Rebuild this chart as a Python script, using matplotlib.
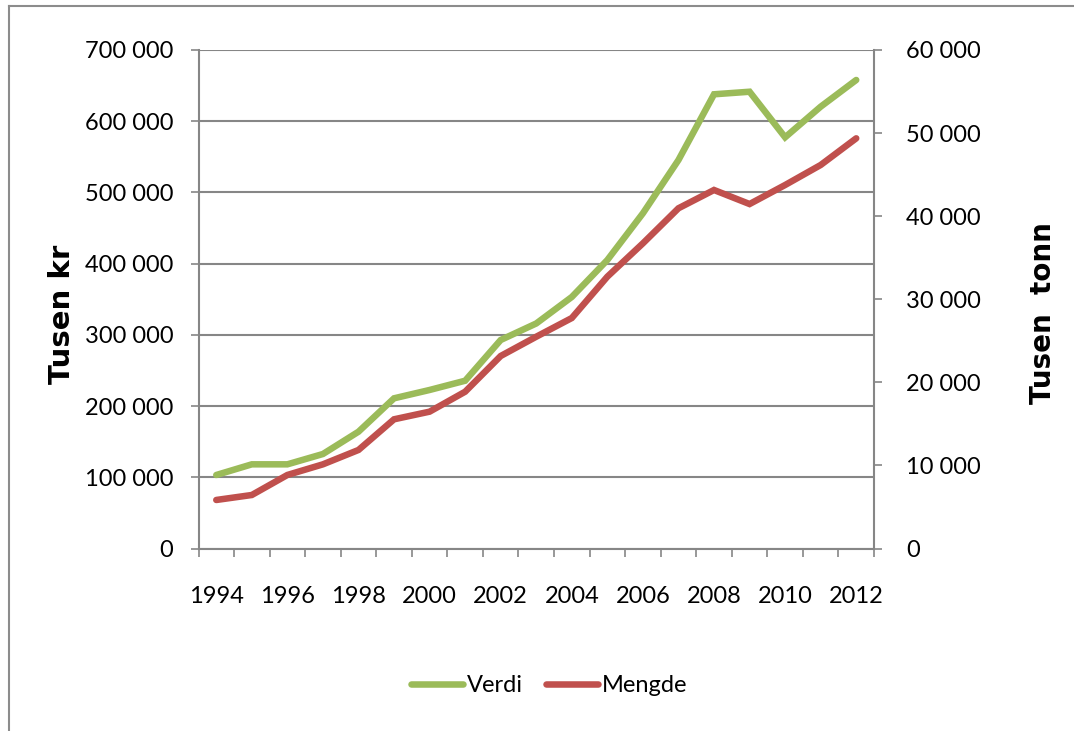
import matplotlib
matplotlib.use("Agg")
import matplotlib.pyplot as plt
from matplotlib.lines import Line2D
from matplotlib.ticker import FuncFormatter, FixedLocator

years = list(range(1994, 2013))
verdi = [103200, 118200, 118200, 132700, 164000, 210900, 222600, 235600,
         292800, 316000, 353200, 405100, 470700, 545500, 637800, 641400,
         577400, 620400, 657900]
mengde = [5840, 6440, 8850, 10130, 11860, 15550, 16470, 18870, 23170,
          25490, 27740, 32720, 36730, 40950, 43150, 41460, 43750, 46160,
          49370]
left_ticks = [0, 100000, 200000, 300000, 400000, 500000, 600000, 700000]
right_ticks = [0, 10000, 20000, 30000, 40000, 50000, 60000]
series_names = ["Verdi", "Mengde"]
left_label = "Tusen kr"
right_label = "Tusen  tonn"

GREEN = "#9BBB59"
RED = "#C0504D"
GRID = "#868686"
FONT = "Lato"

plt.rcParams['font.family'] = [FONT, 'DejaVu Sans']

W, H = 1074, 731
fig = plt.figure(figsize=(W / 100, H / 100), dpi=100)

# outer chart border
fig.add_artist(Line2D([9 / W, 9 / W], [0, 1 - 6 / H], transform=fig.transFigure,
                      color="#8c8c8c", lw=1.5))
fig.add_artist(Line2D([9 / W, 1], [1 - 6 / H, 1 - 6 / H], transform=fig.transFigure,
                      color="#8c8c8c", lw=1.5))

L, R, T, B = 198.5, 874, 50, 548.5
ax = fig.add_axes([L / W, 1 - B / H, (R - L) / W, (B - T) / H])
ax2 = ax.twinx()

x = list(range(len(years)))
l1, = ax.plot(x, verdi, color=GREEN, lw=4.7, solid_capstyle="round",
              solid_joinstyle="miter", label=series_names[0], zorder=3)
l2, = ax2.plot(x, mengde, color=RED, lw=4.7, solid_capstyle="round",
               solid_joinstyle="miter", label=series_names[1], zorder=3)

ax.set_xlim(-0.5, len(years) - 0.5)
ax.set_ylim(0, 700000)
ax2.set_ylim(0, 60000)

fmt = FuncFormatter(lambda v, p: f"{int(v):,}".replace(",", " "))
ax.yaxis.set_major_locator(FixedLocator(left_ticks))
ax.yaxis.set_major_formatter(fmt)
ax2.yaxis.set_major_locator(FixedLocator(right_ticks))
ax2.yaxis.set_major_formatter(fmt)

# x ticks: marks at category boundaries, labels every other year
ax.set_xticks([i - 0.5 for i in range(len(years) + 1)])
ax.set_xticklabels([])
ax.set_xticks(x[::2], minor=True)
ax.set_xticklabels([str(y) for y in years[::2]], minor=True)
ax.tick_params(axis="x", which="minor", length=0, pad=27, labelsize=17)
ax.tick_params(axis="x", which="major", length=6, width=1.2, color=GRID, direction="out")

ax.tick_params(axis="y", length=6, width=1.2, color=GRID, pad=12, labelsize=17)
ax2.tick_params(axis="y", length=6, width=1.2, color=GRID, pad=17, labelsize=17)

ax.grid(axis="y", color=GRID, lw=1.5)
ax.set_axisbelow(True)
for a in (ax, ax2):
    a.spines["top"].set_visible(False)
    for s in ("left", "right", "bottom"):
        a.spines[s].set_color(GRID)
        a.spines[s].set_linewidth(1.5)
ax.spines["right"].set_visible(False)
ax2.spines["left"].set_visible(False)
ax2.spines["bottom"].set_visible(False)

fig.text(62 / W, 1 - 314 / H, left_label, rotation=90, ha="center", va="center",
         fontsize=21, fontweight="bold", family="DejaVu Sans")
fig.text(1043 / W, 1 - 313 / H, right_label, rotation=90, ha="center", va="center",
         fontsize=20, fontweight="bold", family="DejaVu Sans")

fig.legend(handles=[l1, l2], labels=series_names, loc="center",
           bbox_to_anchor=(549 / W, 1 - 686 / H), ncol=2, frameon=False,
           fontsize=17, handlelength=2.2, handletextpad=0.15, columnspacing=1.0)

fig.savefig("out.png", dpi=100, facecolor="white")
